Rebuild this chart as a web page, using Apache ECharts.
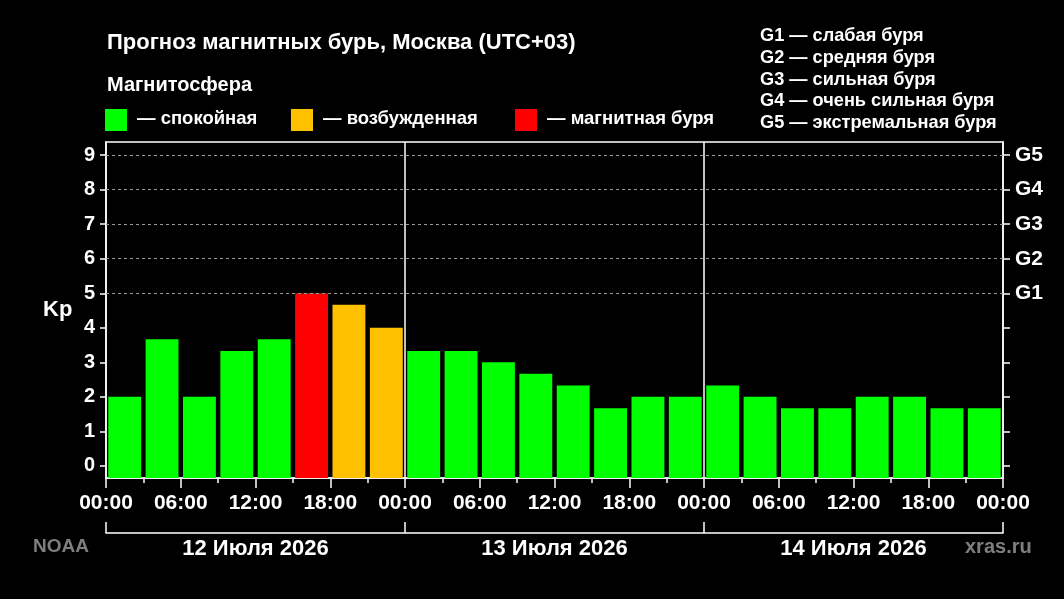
<!DOCTYPE html>
<html>
<head>
    <meta http-equiv="Content-Type" content="text/html; charset=utf-8" />
    <script type="text/javascript" src="https://cdn.jsdelivr.net/npm/echarts@6/dist/echarts.min.js"></script>
</head>
<body style="margin:0;background:#000;">
<div id="main" style="width: 1064px;height:599px;"></div>
<script type="text/javascript">
    // данные прогноза: Kp по 3-часовым интервалам, 3 дня
    var days = ['12 Июля 2026', '13 Июля 2026', '14 Июля 2026'];
    var kpDay1 = [2, 3.67, 2, 3.33, 3.67, 5, 4.67, 4];
    var kpDay2 = [3.33, 3.33, 3, 2.67, 2.33, 1.67, 2, 2];
    var kpDay3 = [2.33, 2, 1.67, 1.67, 2, 2, 1.67, 1.67];
    var kpTicks = [0, 1, 2, 3, 4, 5, 6, 7, 8, 9];
    var gLevels = ['G1', 'G2', 'G3', 'G4', 'G5'];
    var gText = ['слабая буря', 'средняя буря', 'сильная буря', 'очень сильная буря', 'экстремальная буря'];

    var kp = kpDay1.concat(kpDay2, kpDay3);
    var yMin = -0.35, yMax = 9.38;
    var font = "'Liberation Sans', Arial, sans-serif";

    function barColor(v) {
        if (v >= 5) return '#ff0000';
        if (v >= 4) return '#ffc000';
        return '#00ff00';
    }
    function pad(n) { return (n < 10 ? '0' : '') + n; }

    // точки данных: [начало интервала (ч), значение]
    var barData = kp.map(function (v, i) { return [i * 3, v]; });

    var myChart = echarts.init(document.getElementById('main'));

    var gfx = [
        { type: 'text', left: 107, top: 32, style: { text: 'Прогноз магнитных бурь, Москва (UTC+03)', fill: '#fff', font: 'bold 22px ' + font } },
        { type: 'text', left: 107, top: 75, style: { text: 'Магнитосфера', fill: '#fff', font: 'bold 20px ' + font } },
        { type: 'text', left: 43, top: 299, style: { text: 'Kp', fill: '#fff', font: 'bold 22px ' + font } },
        { type: 'text', left: 33, top: 537, style: { text: 'NOAA', fill: '#7f7f7f', font: 'bold 19px ' + font } },
        { type: 'text', left: 965, top: 537, style: { text: 'xras.ru', fill: '#7f7f7f', font: 'bold 20px ' + font } }
    ];
    var legendItems = [
        { x: 105, color: '#00ff00', text: '— спокойная' },
        { x: 291, color: '#ffc000', text: '— возбужденная' },
        { x: 515, color: '#ff0000', text: '— магнитная буря' }
    ];
    legendItems.forEach(function (it) {
        gfx.push({ type: 'rect', shape: { x: it.x, y: 109, width: 22, height: 22 }, style: { fill: it.color } });
        gfx.push({ type: 'text', left: it.x + 32, top: 109, style: { text: it.text, fill: '#fff', font: 'bold 18.5px ' + font } });
    });
    gLevels.forEach(function (g, i) {
        gfx.push({ type: 'text', left: 760, top: 27 + i * 21.8, style: { text: g + ' — ' + gText[i], fill: '#fff', font: 'bold 18.2px ' + font } });
    });

    var option = {
        backgroundColor: '#000',
        animation: false,
        textStyle: { fontFamily: font },
        grid: {
            left: 106, right: 61, top: 142, bottom: 121,
            show: true, borderColor: '#fff', borderWidth: 1.5, backgroundColor: 'transparent'
        },
        xAxis: [{
            type: 'value', min: 0, max: 72, interval: 6,
            axisLine: { show: true, onZero: false, lineStyle: { color: '#fff', width: 1.5 } },
            axisTick: { show: true, length: 10, lineStyle: { color: '#fff', width: 1.5 } },
            minorTick: { show: true, splitNumber: 2, length: 5, lineStyle: { color: '#fff', width: 1.5 } },
            splitLine: { show: false },
            axisLabel: {
                color: '#fff', fontWeight: 'bold', fontSize: 21, margin: 15,
                formatter: function (v) { return pad(v % 24) + ':00'; }
            }
        }, {
            // скобка с датами под осью времени
            type: 'value', min: 0, max: 72, position: 'bottom', offset: 55,
            axisLine: { show: true, onZero: false, lineStyle: { color: '#fff', width: 1.5 } },
            axisTick: { show: true, inside: true, length: 11, customValues: [0, 24, 48, 72], lineStyle: { color: '#fff', width: 1.5 } },
            splitLine: { show: false },
            axisLabel: {
                color: '#fff', fontWeight: 'bold', fontSize: 22, margin: 5,
                customValues: [12, 36, 60],
                formatter: function (v) { return days[Math.floor(v / 24)]; }
            }
        }],
        yAxis: [{
            type: 'value', min: yMin, max: yMax, position: 'left',
            axisLine: { show: true, onZero: false, lineStyle: { color: '#fff', width: 1.5 } },
            axisTick: { show: true, length: 6, customValues: kpTicks, lineStyle: { color: '#fff', width: 1.5 } },
            splitLine: { show: false },
            axisLabel: { color: '#fff', fontWeight: 'bold', fontSize: 20, margin: 11, customValues: kpTicks }
        }, {
            type: 'value', min: yMin, max: yMax, position: 'right',
            axisLine: { show: true, onZero: false, lineStyle: { color: '#fff', width: 1.5 } },
            axisTick: { show: true, length: 7, customValues: kpTicks, lineStyle: { color: '#fff', width: 1.5 } },
            splitLine: { show: false },
            axisLabel: {
                color: '#fff', fontWeight: 'bold', fontSize: 21, margin: 12,
                customValues: [5, 6, 7, 8, 9],
                formatter: function (v) { return gLevels[v - 5]; }
            }
        }],
        graphic: gfx,
        series: [{
            type: 'line', data: [], silent: true,
            markLine: {
                silent: true, symbol: 'none', label: { show: false },
                lineStyle: { color: '#9a9a9a', type: [3, 3], width: 1 },
                data: [5, 6, 7, 8, 9].map(function (v) { return { yAxis: v }; })
            }
        }, {
            type: 'custom',
            data: barData,
            encode: { x: 0, y: 1 },
            z: 3,
            renderItem: function (params, api) {
                var x = api.value(0), v = api.value(1);
                var top = api.coord([x + 1.5, v]);
                var bottom = api.coord([x + 1.5, yMin]);
                var w = api.size([3, 0])[0] * 0.88;
                return {
                    type: 'rect',
                    shape: { x: top[0] - w / 2, y: top[1], width: w, height: bottom[1] - top[1] },
                    style: { fill: barColor(v) }
                };
            }
        }, {
            type: 'line', data: [], silent: true, z: 4,
            markLine: {
                silent: true, symbol: 'none', label: { show: false },
                lineStyle: { color: '#fff', type: 'solid', width: 1.5 },
                data: [{ xAxis: 24 }, { xAxis: 48 }]
            }
        }]
    };

    myChart.setOption(option);
</script>
</body>
</html>
